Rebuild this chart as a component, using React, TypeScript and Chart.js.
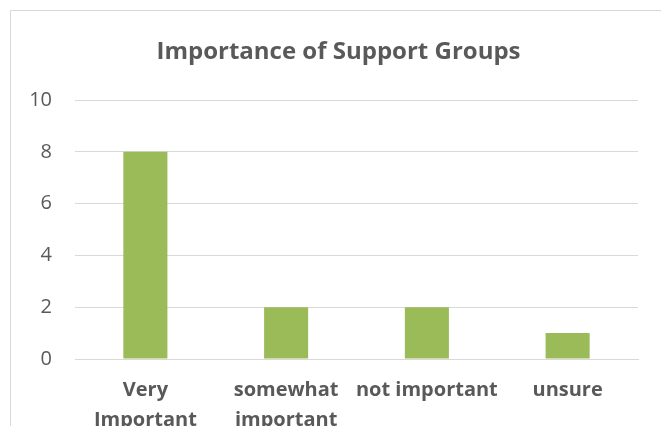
import React, { useEffect, useRef } from "react";
import { Chart, registerables } from "chart.js";

Chart.register(...registerables);

const categories: (string | string[])[] = [["Very", "Important"], ["somewhat", "important"], "not important", "unsure"];
const values: number[] = [8, 2, 2, 1];
const yTicks: number[] = [0, 2, 4, 6, 8, 10];
const titleText = "Importance of Support Groups";

const FONT = "'Open Sans', Lato, sans-serif";
const TEXT = "#595959";
const GRID = "#d9d9d9";

const titlePlugin = {
  id: "offsetTitle",
  afterDraw(chart: any) {
    const ctx = chart.ctx;
    ctx.save();
    ctx.font = `bold 24px ${FONT}`;
    ctx.fillStyle = TEXT;
    ctx.textAlign = "center";
    ctx.textBaseline = "alphabetic";
    ctx.fillText(titleText, chart.width / 2 + 8, 59);
    ctx.restore();
  },
};

export default function App() {
  const ref = useRef<HTMLCanvasElement | null>(null);
  useEffect(() => {
    if (!ref.current) return;
    const chart = new Chart(ref.current, {
      type: "bar",
      data: {
        labels: categories,
        datasets: [
          {
            data: values,
            backgroundColor: "#9BBB59",
            borderWidth: 0,
            barPercentage: 0.313,
            categoryPercentage: 1,
          },
        ],
      },
      plugins: [titlePlugin],
      options: {
        animation: false,
        responsive: false,
        maintainAspectRatio: false,
        layout: { padding: { left: 10, right: 23, top: 100, bottom: 0 } },
        plugins: {
          legend: { display: false },
          tooltip: { enabled: false },
          title: { display: false },
        },
        scales: {
          x: {
            grid: { display: false, drawTicks: false },
            border: { display: true, color: GRID, width: 1 },
            ticks: {
              color: TEXT,
              font: { family: FONT, size: 20, weight: "bold", lineHeight: 1.52 },
              padding: 16,
              maxRotation: 0,
              autoSkip: false,
            },
            afterFit: (s: any) => {
              s.height = 67;
            },
          },
          y: {
            min: 0,
            max: 10,
            afterBuildTicks: (s: any) => {
              s.ticks = yTicks.map((v) => ({ value: v }));
            },
            grid: { color: GRID, drawTicks: false, lineWidth: 1 },
            border: { display: false },
            ticks: {
              color: TEXT,
              font: { family: FONT, size: 20 },
              padding: 23,
            },
            afterFit: (s: any) => {
              s.width = 65;
            },
          },
        },
      },
    });
    return () => chart.destroy();
  }, []);

  return (
    <div style={{ position: "absolute", left: 0, top: 0, width: 661, height: 426, overflow: "hidden", background: "#fff" }}>
      <div
        style={{
          position: "absolute",
          left: 10,
          top: 10,
          width: 700,
          height: 500,
          border: "1.5px solid #d9d9d9",
          boxSizing: "border-box",
        }}
      />
      <canvas ref={ref} width={661} height={426} style={{ position: "absolute", left: 0, top: 0, width: 661, height: 426 }} />
    </div>
  );
}
